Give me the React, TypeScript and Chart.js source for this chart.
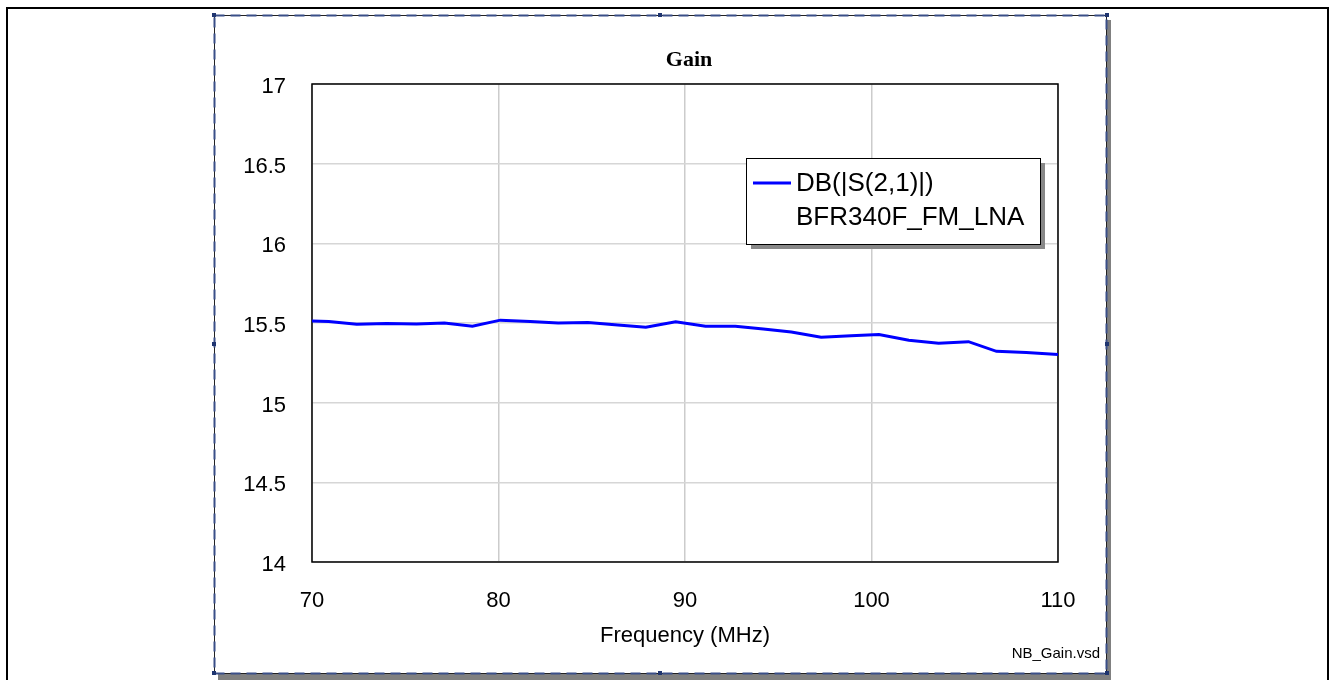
import React, { useEffect, useRef } from "react";
import { Chart, registerables } from "chart.js";

Chart.register(...registerables);

const chartTitle = "Gain";
const xAxisTitle = "Frequency (MHz)";
const seriesLabel = "DB(|S(2,1)|)";
const seriesSource = "BFR340F_FM_LNA";
const fileNote = "NB_Gain.vsd";

const freqMHz = [
  70.0, 70.9, 72.4, 74.0, 75.6, 77.1, 78.6, 80.1, 81.7, 83.2, 84.8, 86.4, 87.9,
  89.5, 91.1, 92.7, 94.2, 95.7, 97.3, 98.9, 100.4, 102.0, 103.6, 105.2, 106.7,
  108.3, 110.0,
];
const gainDb = [
  15.513, 15.51, 15.492, 15.497, 15.494, 15.5, 15.48, 15.518, 15.51, 15.5,
  15.503, 15.488, 15.473, 15.508, 15.48, 15.48, 15.462, 15.443, 15.41, 15.42,
  15.428, 15.392, 15.373, 15.383, 15.322, 15.315, 15.302,
];

const xMin = 70;
const xMax = 110;
const xStep = 10;
const yMin = 14;
const yMax = 17;
const yStep = 0.5;

const SANS = '"Liberation Sans", Arial, sans-serif';
const SERIF = '"Liberation Serif", "Times New Roman", serif';

const framePlugin = {
  id: "framePlugin",
  beforeDraw(chart: any) {
    const ctx = chart.ctx as CanvasRenderingContext2D;
    ctx.save();
    // outer page border
    ctx.strokeStyle = "#000";
    ctx.lineWidth = 2;
    ctx.strokeRect(7, 8, 1321, 720);
    // frame shadow
    ctx.fillStyle = "#808080";
    ctx.fillRect(1107, 20, 4, 660);
    ctx.fillRect(218, 674, 893, 8);
    // frame
    ctx.fillStyle = "#fff";
    ctx.fillRect(214, 15, 893, 658);
    ctx.strokeStyle = "#222";
    ctx.lineWidth = 1;
    ctx.strokeRect(214.5, 15.5, 892, 658);
    ctx.setLineDash([10, 6]);
    ctx.strokeStyle = "#3a4f88";
    ctx.lineWidth = 2;
    ctx.strokeRect(214.5, 15.5, 892, 658);
    ctx.setLineDash([]);
    ctx.fillStyle = "#1f3570";
    const hs = [
      [214, 15],
      [660, 15],
      [1107, 15],
      [214, 344],
      [1107, 344],
      [214, 673],
      [660, 673],
      [1107, 673],
    ];
    for (const [hx, hy] of hs) ctx.fillRect(hx - 2, hy - 2, 4, 4);
    ctx.restore();
  },
  beforeDatasetsDraw(chart: any) {
    const ctx = chart.ctx as CanvasRenderingContext2D;
    const a = chart.chartArea;
    ctx.save();
    ctx.strokeStyle = "#000";
    ctx.lineWidth = 1.5;
    ctx.strokeRect(a.left, a.top, a.right - a.left, a.bottom - a.top);
    ctx.restore();
  },
  afterDraw(chart: any) {
    const ctx = chart.ctx as CanvasRenderingContext2D;
    const a = chart.chartArea;
    ctx.save();
    // title
    ctx.fillStyle = "#000";
    ctx.font = `bold 22px ${SERIF}`;
    ctx.textAlign = "center";
    ctx.textBaseline = "middle";
    ctx.fillText(chartTitle, (a.left + a.right) / 2 + 4, 60);

    // legend box
    const lx = 746;
    const ly = 158;
    const lw = 294;
    const lh = 86;
    ctx.fillStyle = "#888";
    ctx.fillRect(lx + 5, ly + 5, lw, lh);
    ctx.fillStyle = "#fff";
    ctx.fillRect(lx, ly, lw, lh);
    ctx.strokeStyle = "#000";
    ctx.lineWidth = 1;
    ctx.strokeRect(lx + 0.5, ly + 0.5, lw, lh);
    ctx.strokeStyle = "#0000ff";
    ctx.lineWidth = 3;
    ctx.beginPath();
    ctx.moveTo(753, 183);
    ctx.lineTo(791, 183);
    ctx.stroke();
    ctx.fillStyle = "#000";
    ctx.font = `26px ${SANS}`;
    ctx.textAlign = "left";
    ctx.textBaseline = "middle";
    ctx.fillText(seriesLabel, 796, 184);
    ctx.fillText(seriesSource, 796, 218);

    // file note
    ctx.font = `15px ${SANS}`;
    ctx.textAlign = "right";
    ctx.fillText(fileNote, 1100, 654);
    ctx.restore();
  },
};

export default function App() {
  const ref = useRef<HTMLCanvasElement | null>(null);

  useEffect(() => {
    if (!ref.current) return;
    const chart = new Chart(ref.current, {
      type: "line",
      data: {
        datasets: [
          {
            label: seriesLabel,
            data: freqMHz.map((f, i) => ({ x: f, y: gainDb[i] })),
            borderColor: "#0000ff",
            backgroundColor: "#0000ff",
            borderWidth: 3,
            pointRadius: 0,
            tension: 0,
            fill: false,
          },
        ],
      },
      options: {
        animation: false,
        responsive: false,
        devicePixelRatio: 1,
        layout: { padding: { left: 212, right: 274, top: 84, bottom: 31.2 } },
        plugins: {
          legend: { display: false },
          title: { display: false },
          tooltip: { enabled: false },
        },
        scales: {
          x: {
            type: "linear",
            min: xMin,
            max: xMax,
            afterFit: (s: any) => {
              s.height = 86.8;
            },
            ticks: {
              stepSize: xStep,
              color: "#000",
              padding: 26,
              font: { family: SANS, size: 22, lineHeight: 1.2 },
              maxRotation: 0,
              callback: (v: any) => String(v),
            },
            grid: { color: "#cccccc", lineWidth: 1.5, drawTicks: false },
            border: { display: false },
            title: {
              display: true,
              text: xAxisTitle,
              color: "#000",
              font: { family: SANS, size: 22, lineHeight: 1.2 },
              padding: { top: 8, bottom: 0 },
            },
          },
          y: {
            min: yMin,
            max: yMax,
            afterFit: (s: any) => {
              s.width = 100;
            },
            ticks: {
              stepSize: yStep,
              color: "#000",
              padding: 26,
              labelOffset: 3,
              font: { family: SANS, size: 22, lineHeight: 1.2 },
              callback: (v: any) => String(v),
            },
            grid: { color: "#d6d6d6", lineWidth: 1.5, drawTicks: false },
            border: { display: false },
          },
        },
      },
      plugins: [framePlugin],
    });
    return () => chart.destroy();
  }, []);

  return (
    <div style={{ position: "fixed", left: 0, top: 0, width: 1332, height: 680 }}>
      <canvas ref={ref} width={1332} height={680} style={{ display: "block" }} />
    </div>
  );
}
